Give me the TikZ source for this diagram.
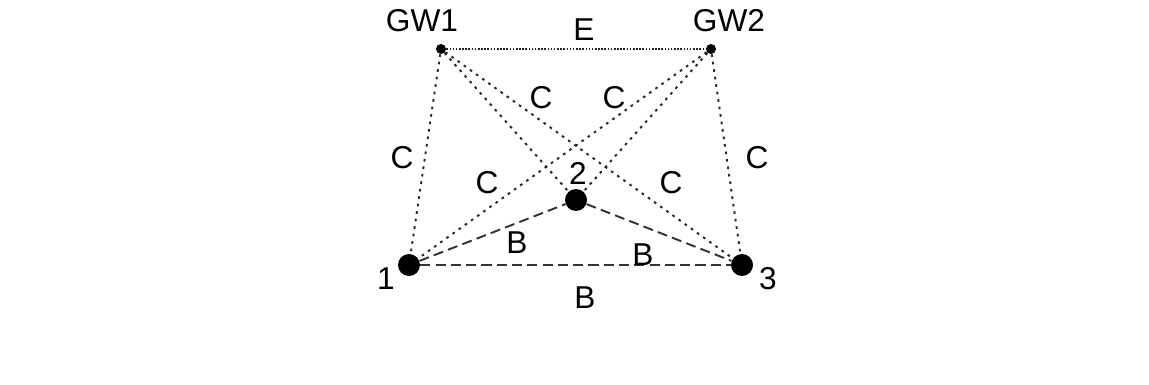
\documentclass[tikz,border=0pt]{standalone}
\usepackage{fontspec}
\setmainfont{Liberation Sans}
\usetikzlibrary{positioning}

\tikzset{
    bigdot/.style={circle, fill=black, inner sep=0pt, minimum size=0.44cm},
    smalldot/.style={circle, fill=black, inner sep=0pt, minimum size=0.2cm},
    lbl/.style={draw=none, font=\fontsize{18}{21}\selectfont, inner sep=0pt},
    linkC/.style={line width=1.1pt, dash pattern=on 1.5pt off 2.8pt, black!85},
    linkE/.style={line width=0.9pt, dash pattern=on 0.9pt off 0.9pt, black!85},
    linkB/.style={line width=1.1pt, dash pattern=on 5.7pt off 3pt, black!80},
}

\begin{document}
\begin{tikzpicture}[x=0.02cm, y=-0.02cm]

    \useasboundingbox (0, 0) rectangle (1149, 385);

    \node[smalldot] (GW1) at (441, 49) {};
    \node[smalldot] (GW2) at (711, 49) {};
    \node[bigdot] (N1) at (409, 265) {};
    \node[bigdot] (N2) at (576, 200) {};
    \node[bigdot] (N3) at (742, 265) {};

    \node[lbl] (L0) at (422, 21) {GW1};
    \node[lbl] (L1) at (729, 21) {GW2};
    \node[lbl] (L2) at (386, 279) {1};
    \node[lbl] (L3) at (578, 173) {2};
    \node[lbl] (L4) at (768, 279) {3};

    \draw[linkE] (GW1) -- (GW2);
    \node[lbl] (E0) at (584, 30) {E};

    \draw[linkC] (GW1) -- (N1);
    \draw[linkC] (GW1) -- (N2);
    \draw[linkC] (GW1) -- (N3);
    \draw[linkC] (GW2) -- (N1);
    \draw[linkC] (GW2) -- (N2);
    \draw[linkC] (GW2) -- (N3);

    \draw[linkB] (N1) -- (N2);
    \draw[linkB] (N2) -- (N3);
    \draw[linkB] (N1) -- (N3);

    \node[lbl] (C0) at (541, 98) {C};
    \node[lbl] (C1) at (614, 98) {C};
    \node[lbl] (C2) at (402, 158) {C};
    \node[lbl] (C3) at (487, 183) {C};
    \node[lbl] (C4) at (671, 183) {C};
    \node[lbl] (C5) at (757, 158) {C};

    \node[lbl] (B0) at (517, 243) {B};
    \node[lbl] (B1) at (643, 255) {B};
    \node[lbl] (B2) at (585, 298) {B};

\end{tikzpicture}
\end{document}
